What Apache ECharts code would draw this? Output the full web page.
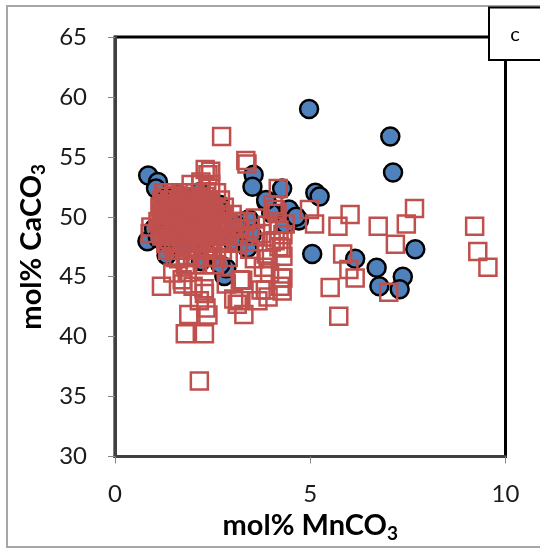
<!DOCTYPE html>
<html>
<head>
<meta charset="utf-8">
<script src="https://cdn.jsdelivr.net/npm/echarts@6/dist/echarts.min.js"></script>
<style>
  html, body { margin: 0; padding: 0; background: #fff; }
  #chart { width: 540px; height: 548px; }
</style>
</head>
<body>
<div id="chart"></div>
<script>
// axis ranges (mol%)
const xRange = [0, 10];
const yRange = [30, 65];

// blue circles [MnCO3, CaCO3]
const circlePoints = [
  [0.85, 53.45], [1.10, 52.9], [1.05, 52.35], [3.55, 53.5], [3.52, 52.5],
  [4.28, 52.35], [3.88, 51.2], [4.45, 50.6], [4.71, 49.7], [3.43, 49.8],
  [3.39, 47.4], [2.82, 45.5], [2.80, 45.05], [0.83, 47.95], [1.32, 46.8],
  [2.33, 51.0], [2.16, 52.05], [4.36, 49.4], [4.97, 59.0], [7.05, 56.7],
  [7.12, 53.7], [5.13, 52.0], [5.24, 51.7], [5.05, 46.9], [6.15, 46.5],
  [7.69, 47.3], [6.70, 45.75], [6.77, 44.2], [7.37, 45.0], [7.29, 43.95],
  [2.42, 51.4], [2.68, 51.0], [4.0, 50.3], [4.64, 50.0], [3.87, 51.4],
  [2.85, 45.7], [1.3, 51.5], [1.6, 51.8], [2.0, 51.5], [2.6, 50.8],
  [1.0, 49.0], [1.1, 48.2], [1.7, 47.5], [2.3, 48.0], [2.7, 46.0],
  [3.1, 49.3], [3.5, 48.5], [3.0, 48.0], [2.2, 46.3], [2.5, 49.5],
  [1.8, 50.5], [2.1, 49.0]
];

// red open squares [MnCO3, CaCO3]
const squarePoints = [
  // scattered
  [2.73, 56.7], [3.35, 54.7], [3.38, 54.4], [2.31, 53.95], [2.38, 53.5],
  [2.20, 52.9], [2.45, 53.8], [4.18, 52.35], [1.19, 44.2], [1.80, 40.25],
  [2.29, 40.25], [2.16, 36.3], [1.89, 41.85], [2.38, 41.8], [2.33, 42.4],
  [2.16, 43.0], [2.29, 43.6], [1.74, 44.4], [2.0, 44.2], [2.28, 44.0],
  [1.48, 45.3], [1.72, 44.75], [1.85, 45.35], [1.63, 46.5], [3.30, 41.85],
  [3.13, 42.7], [3.04, 43.15], [3.19, 43.0], [3.66, 43.0], [3.92, 43.3],
  [3.74, 43.9], [3.85, 43.9], [4.27, 44.9], [4.23, 44.2], [3.21, 44.75],
  [3.27, 44.7], [3.96, 45.3], [2.85, 44.4], [3.92, 46.5], [3.57, 46.5],
  [3.87, 46.9], [4.2, 47.5], [4.27, 47.4], [4.1, 48.0], [4.10, 50.6],
  [4.36, 49.4], [4.2, 48.9], [4.98, 50.6], [5.11, 49.4], [0.92, 49.15],
  [0.9, 48.6], [5.71, 49.2], [6.02, 50.2], [6.74, 49.2], [7.67, 50.7],
  [7.46, 49.4], [7.18, 47.7], [9.21, 49.2], [9.29, 47.1], [9.55, 45.8],
  [5.83, 46.9], [5.99, 45.6], [6.15, 44.9], [5.51, 44.1], [5.73, 41.7],
  [7.01, 43.7], [4.3, 48.5], [4.3, 46.7], [4.3, 44.9], [4.28, 43.8],
  [4.05, 51.0], [4.15, 50.3], [3.6, 49.9], [3.9, 49.3], [3.75, 48.6],
  [4.0, 47.9], [3.45, 47.3], [3.8, 45.8], [2.9, 46.6],
  // main cluster
  [1.95, 52.7], [2.2, 52.7], [2.45, 52.7],
  [1.25, 52.0], [1.5, 52.0], [1.75, 52.0], [2.05, 52.0], [2.35, 52.0], [2.6, 52.0],
  [1.2, 51.4], [1.4, 51.4], [1.65, 51.4], [1.9, 51.4], [2.15, 51.4], [2.4, 51.4], [2.7, 51.4],
  [1.15, 50.8], [1.35, 50.8], [1.55, 50.8], [1.8, 50.8], [2.0, 50.8], [2.25, 50.8], [2.5, 50.8], [2.8, 50.8],
  [1.2, 50.2], [1.4, 50.2], [1.6, 50.2], [1.85, 50.2], [2.1, 50.2], [2.3, 50.2], [2.55, 50.2], [2.75, 50.2], [3.0, 50.2],
  [1.1, 49.6], [1.3, 49.6], [1.5, 49.6], [1.7, 49.6], [1.95, 49.6], [2.15, 49.6], [2.4, 49.6], [2.6, 49.6], [2.85, 49.6], [3.1, 49.6], [3.35, 49.6],
  [1.15, 49.0], [1.35, 49.0], [1.6, 49.0], [1.8, 49.0], [2.0, 49.0], [2.25, 49.0], [2.5, 49.0], [2.7, 49.0], [2.95, 49.0], [3.2, 49.0], [3.45, 49.0],
  [1.2, 48.4], [1.45, 48.4], [1.65, 48.4], [1.9, 48.4], [2.1, 48.4], [2.35, 48.4], [2.55, 48.4], [2.8, 48.4], [3.05, 48.4], [3.3, 48.4], [3.6, 48.4],
  [1.3, 47.8], [1.5, 47.8], [1.75, 47.8], [1.95, 47.8], [2.2, 47.8], [2.4, 47.8], [2.65, 47.8], [2.9, 47.8], [3.15, 47.8],
  [1.35, 47.2], [1.6, 47.2], [1.8, 47.2], [2.05, 47.2], [2.3, 47.2], [2.5, 47.2], [2.75, 47.2],
  [1.55, 46.6], [1.85, 46.6], [2.1, 46.6], [2.35, 46.6], [2.6, 46.6],
  [1.8, 46.0], [2.05, 46.0], [2.3, 46.0], [2.55, 46.0],
  // dense core
  [1.3, 51.7], [1.55, 51.75], [1.8, 51.7], [2.05, 51.65], [2.3, 51.7],
  [1.28, 51.1], [1.45, 51.05], [1.7, 51.1], [1.95, 51.1], [2.2, 51.05], [2.45, 51.1],
  [1.25, 50.5], [1.5, 50.5], [1.7, 50.45], [1.95, 50.5], [2.2, 50.5], [2.4, 50.5], [2.65, 50.5],
  [1.2, 49.9], [1.45, 49.9], [1.65, 49.85], [1.85, 49.9], [2.05, 49.9], [2.3, 49.9], [2.5, 49.9], [2.7, 49.9],
  [1.25, 49.3], [1.5, 49.3], [1.7, 49.3], [1.9, 49.25], [2.15, 49.3], [2.4, 49.3], [2.6, 49.3], [2.85, 49.3],
  [1.3, 48.7], [1.55, 48.7], [1.75, 48.7], [2.0, 48.65], [2.2, 48.7], [2.45, 48.7], [2.65, 48.7],
  [1.4, 48.1], [1.6, 48.1], [1.85, 48.1], [2.05, 48.1], [2.3, 48.1], [2.5, 48.1],
  [1.5, 47.5], [1.7, 47.5], [1.95, 47.5], [2.15, 47.5], [2.4, 47.5]
];

const chart = echarts.init(document.getElementById('chart'));

const labelFont = 'Lato, "Open Sans", sans-serif';

chart.setOption({
  animation: false,
  backgroundColor: '#fff',
  grid: {
    left: 115, right: 34.5, top: 37, bottom: 91.5,
    show: true, borderColor: '#000', borderWidth: 3
  },
  xAxis: {
    type: 'value', min: xRange[0], max: xRange[1], interval: 5,
    name: '{a|mol% MnCO}{b|3}',
    nameLocation: 'middle', nameGap: 49,
    nameTextStyle: {
      rich: {
        a: { fontFamily: labelFont, fontSize: 29, fontWeight: 'bold', color: '#000', lineHeight: 34 },
        b: { fontFamily: labelFont, fontSize: 19, fontWeight: 'bold', color: '#000', lineHeight: 14, verticalAlign: 'bottom' }
      }
    },
    axisLine: { lineStyle: { color: '#404040', width: 3 } },
    axisTick: { show: true, inside: false, length: 7, lineStyle: { color: '#868686', width: 1 } },
    axisLabel: { fontFamily: labelFont, fontSize: 24, color: '#1a1a1a', margin: 26 },
    splitLine: { show: false }
  },
  yAxis: {
    type: 'value', min: yRange[0], max: yRange[1], interval: 5,
    name: '{a|mol% CaCO}{b|3}',
    nameLocation: 'middle', nameGap: 60,
    nameTextStyle: {
      rich: {
        a: { fontFamily: labelFont, fontSize: 29, fontWeight: 'bold', color: '#000', lineHeight: 34 },
        b: { fontFamily: labelFont, fontSize: 19, fontWeight: 'bold', color: '#000', lineHeight: 14, verticalAlign: 'bottom' }
      }
    },
    axisLine: { show: true, lineStyle: { color: '#404040', width: 3 } },
    axisTick: { show: true, inside: false, length: 7, lineStyle: { color: '#868686', width: 1 } },
    axisLabel: { fontFamily: labelFont, fontSize: 24, color: '#1a1a1a', margin: 28 },
    splitLine: { show: false }
  },
  graphic: [
    {
      type: 'rect', z: 100, silent: true,
      shape: { x: 7, y: 6, width: 600, height: 541 },
      style: { fill: 'none', stroke: '#a6a6a6', lineWidth: 2 }
    },
    {
      type: 'rect', z: 101, silent: true,
      shape: { x: 489, y: 7.5, width: 70, height: 52.5 },
      style: { fill: '#fff', stroke: '#000', lineWidth: 2 }
    },
    {
      type: 'text', z: 102, silent: true,
      style: { x: 515, y: 35, text: 'c', fontFamily: labelFont, fontSize: 20, fill: '#000', align: 'center', verticalAlign: 'middle' }
    }
  ],
  series: [
    {
      name: 'circles',
      type: 'scatter',
      data: circlePoints,
      symbol: 'circle',
      symbolSize: 18,
      itemStyle: { color: '#4F81BD', borderColor: '#000', borderWidth: 2.5, opacity: 1 }
    },
    {
      name: 'squares',
      type: 'scatter',
      data: squarePoints,
      symbol: 'rect',
      symbolSize: 17,
      itemStyle: { color: 'rgba(0,0,0,0)', borderColor: '#C0504D', borderWidth: 2.5, opacity: 1 }
    }
  ]
});

window.addEventListener('resize', () => chart.resize());
</script>
</body>
</html>
